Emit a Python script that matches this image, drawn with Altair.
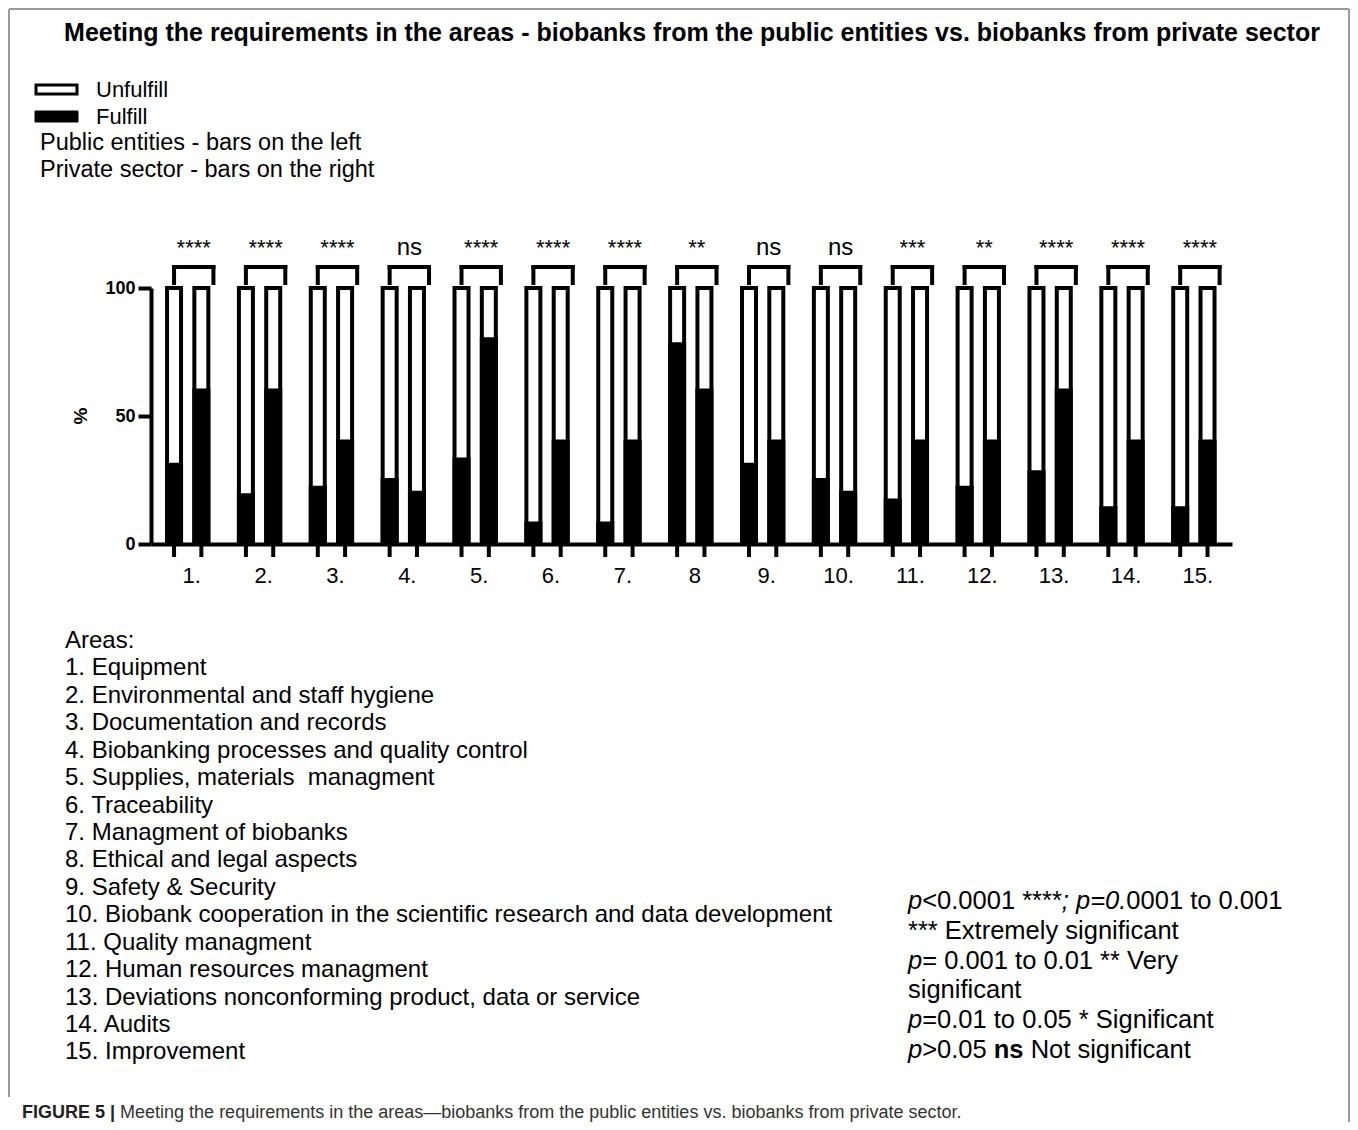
import altair as alt
import pandas as pd

# ---------------- data ----------------
area_ids = list(range(1, 16))
tick_labels = ["1.", "2.", "3.", "4.", "5.", "6.", "7.", "8", "9.", "10.", "11.", "12.", "13.", "14.", "15."]
public_fulfill = [31, 19, 22, 25, 33, 8, 8, 78, 31, 25, 17, 22, 28, 14, 14]
private_fulfill = [60, 60, 40, 20, 80, 40, 40, 60, 40, 20, 40, 40, 60, 40, 40]
significance = ["****", "****", "****", "ns", "****", "****", "****", "**", "ns", "ns",
                "***", "**", "****", "****", "****"]
area_names = [
    "Areas:",
    "1. Equipment",
    "2. Environmental and staff hygiene",
    "3. Documentation and records",
    "4. Biobanking processes and quality control",
    "5. Supplies, materials\u00a0 managment",
    "6. Traceability",
    "7. Managment of biobanks",
    "8. Ethical and legal aspects",
    "9. Safety & Security",
    "10. Biobank cooperation in the scientific research and data development",
    "11. Quality managment",
    "12. Human resources managment",
    "13. Deviations nonconforming product, data or service",
    "14. Audits",
    "15. Improvement",
]
legend_items = ["Unfulfill", "Fulfill"]
legend_notes = ["Public entities - bars on the left", "Private sector - bars on the right"]
title_text = ("Meeting the requirements in the areas - biobanks from the public entities "
              "vs. biobanks from private sector")
caption_bold = "FIGURE 5 |"
caption_text = ("Meeting the requirements in the areas\u2014biobanks from the public entities "
                "vs. biobanks from private sector.")
p_lines = [
    [("p", "i"), ("<0.0001 ****", "n"), ("; p=0.", "i"), ("0001 to 0.001", "n")],
    [("*** Extremely significant", "n")],
    [("p", "i"), ("= 0.001 to 0.01 ** Very", "n")],
    [("significant", "n")],
    [("p", "i"), ("=0.01 to 0.05 * Significant", "n")],
    [("p", "i"), (">0.05 ", "n"), ("ns", "b"), (" Not significant", "n")],
]

# ---------------- layout ----------------
FONT = "Liberation Sans"
PL, PT = 151, 288          # plot-area origin on the page
W, H = 1081, 256
D0, D1 = 0.559, 15.461
OFF = 0.19
BR_R = 0.358
P_SIZE = 25.5

REG = {' ': 278, '*': 389, '.': 278, ';': 278, '<': 584, '>': 584, '=': 584, 'p': 556, '|': 260}
BOLD = {' ': 278, '|': 280, 'F': 611, 'I': 278, 'G': 778, 'U': 722, 'R': 722, 'E': 667, 'n': 611, 's': 556}


def tw(s, size, bold=False):
    t = BOLD if bold else REG
    return sum(t.get(c, 556) for c in s) / 1000 * size


rows = []
for i, pub, pri in zip(area_ids, public_fulfill, private_fulfill):
    rows.append({"id": i, "sector": "Public", "pos": i - OFF, "fulfill": pub, "full": 100})
    rows.append({"id": i, "sector": "Private", "pos": i + OFF, "fulfill": pri, "full": 100})
bars = pd.DataFrame(rows)

br = pd.DataFrame({"id": area_ids, "sig": significance, "label": tick_labels})
br["left"] = br["id"] - OFF
br["right"] = br["id"] + BR_R
br["mid"] = (br["left"] + br["right"]) / 2

xs = alt.Scale(domain=[D0, D1], nice=False, zero=False)
ys = alt.Scale(domain=[0, 100], nice=False)

X = alt.X("pos:Q", scale=xs,
          axis=alt.Axis(labels=False, ticks=False, grid=False, title=None,
                        domainWidth=4, domainColor="black"))
Yaxis = alt.Axis(values=[0, 50, 100], title=None, grid=False, domainWidth=4, domainColor="black",
                 tickWidth=4, tickColor="black", tickSize=13, labelFontSize=18,
                 labelFontWeight="bold", labelFont=FONT, labelColor="black", labelPadding=3)

bg = alt.Chart(bars).mark_bar(width=14, orient="vertical", fill="white", stroke="black",
                              strokeWidth=4).encode(
    x=X, y=alt.Y("full:Q", scale=ys, axis=Yaxis))
fg = alt.Chart(bars).mark_bar(width=14, orient="vertical", fill="black", stroke="black",
                              strokeWidth=4).encode(
    x=alt.X("pos:Q", scale=xs), y=alt.Y("fulfill:Q", scale=ys))
ticks = alt.Chart(bars).mark_rule(strokeWidth=4, color="black").encode(
    x=alt.X("pos:Q", scale=xs), y=alt.value(H), y2=alt.value(H + 13))

brk_kw = dict(strokeWidth=4, color="black", strokeCap="square")
hbr = alt.Chart(br).mark_rule(**brk_kw).encode(
    x=alt.X("left:Q", scale=xs), x2="right:Q", y=alt.value(-21))
lleg = alt.Chart(br).mark_rule(**brk_kw).encode(
    x=alt.X("left:Q", scale=xs), y=alt.value(-21), y2=alt.value(-5))
rleg = alt.Chart(br).mark_rule(**brk_kw).encode(
    x=alt.X("right:Q", scale=xs), y=alt.value(-21), y2=alt.value(-5))
sig = alt.Chart(br).mark_text(font=FONT, align="center", baseline="alphabetic", color="black").encode(
    x=alt.X("mid:Q", scale=xs), y=alt.value(-33), text="sig:N",
    size=alt.condition(alt.datum.sig == "ns", alt.value(24), alt.value(22)))
xlab = alt.Chart(br).mark_text(font=FONT, fontSize=22, align="center", baseline="alphabetic",
                               dx=4, color="black").encode(
    x=alt.X("id:Q", scale=xs), y=alt.value(295), text="label:N")


def text_layer(df, **kw):
    base = dict(font=FONT, align="left", baseline="alphabetic", color="black")
    base.update(kw)
    return alt.Chart(df).mark_text(**base).encode(
        x=alt.X("px:Q", scale=None, axis=None),
        y=alt.Y("py:Q", scale=None, axis=None),
        text="t:N")


title = text_layer(pd.DataFrame({"t": [title_text], "px": [692 - PL], "py": [41 - PT]}),
                   fontSize=25, fontWeight="bold", align="center")
ytitle = text_layer(pd.DataFrame({"t": ["%"], "px": [87 - PL], "py": [416 - PT]}),
                    fontSize=19, fontWeight="bold", align="center", angle=270)

leg_items = text_layer(pd.DataFrame({"t": legend_items, "px": [96 - PL] * 2,
                                     "py": [97 - PT + 26.5 * k for k in range(2)]}), fontSize=22)
leg_notes = text_layer(pd.DataFrame({"t": legend_notes, "px": [40 - PL] * 2,
                                     "py": [150 - PT + 27 * k for k in range(2)]}), fontSize=23.5)
sw_un = alt.Chart(pd.DataFrame({"k": [0]})).mark_rect(fill="white", stroke="black", strokeWidth=3).encode(
    x=alt.value(36 - PL), x2=alt.value(77 - PL), y=alt.value(85 - PT), y2=alt.value(94 - PT))
sw_fu = alt.Chart(pd.DataFrame({"k": [0]})).mark_rect(fill="black", stroke="black", strokeWidth=1).encode(
    x=alt.value(35 - PL), x2=alt.value(78 - PL), y=alt.value(111 - PT), y2=alt.value(122 - PT))

areas = text_layer(pd.DataFrame({"t": area_names, "px": [65 - PL] * len(area_names),
                                 "py": [648 - PT + 27.43 * k for k in range(len(area_names))]}),
                   fontSize=24)

prow = []
for li, segs in enumerate(p_lines):
    x = 908 - PL
    for txt, st in segs:
        lead = txt[:len(txt) - len(txt.lstrip())]
        prow.append({"t": txt.strip(), "st": st, "px": x + tw(lead, P_SIZE), "py": 909 - PT + 29.8 * li})
        x += tw(txt, P_SIZE, bold=(st == "b"))
pdf = pd.DataFrame(prow)
p_n = text_layer(pdf[pdf.st == "n"], fontSize=P_SIZE)
p_i = text_layer(pdf[pdf.st == "i"], fontSize=P_SIZE, fontStyle="italic")
p_b = text_layer(pdf[pdf.st == "b"], fontSize=P_SIZE, fontWeight="bold")

cap_b = text_layer(pd.DataFrame({"t": [caption_bold], "px": [22 - PL], "py": [1118 - PT]}),
                   fontSize=18, fontWeight="bold", color="#222")
cap_r = text_layer(pd.DataFrame({"t": [caption_text], "px": [22 - PL + tw(caption_bold + " ", 18, True)],
                                 "py": [1118 - PT]}), fontSize=18, color="#333")

one = pd.DataFrame({"k": [0]})
fr_kw = dict(color="#9a9a9a", strokeWidth=2)
fr_top = alt.Chart(one).mark_rule(**fr_kw).encode(
    x=alt.value(9 - PL), x2=alt.value(1349 - PL), y=alt.value(9 - PT))
fr_left = alt.Chart(one).mark_rule(**fr_kw).encode(
    x=alt.value(9 - PL), y=alt.value(9 - PT), y2=alt.value(1097 - PT))
fr_right = alt.Chart(one).mark_rule(**fr_kw).encode(
    x=alt.value(1349 - PL), y=alt.value(9 - PT), y2=alt.value(1122 - PT))

chart = alt.layer(
    bg, fg, ticks, hbr, lleg, rleg, sig, xlab,
    title, ytitle, leg_items, leg_notes, sw_un, sw_fu, areas, p_n, p_i, p_b, cap_b, cap_r,
    fr_top, fr_left, fr_right,
).properties(
    width=W, height=H,
    autosize=alt.AutoSizeParams(type="none"),
    padding={"left": PL - 8, "top": PT - 8, "right": 1350 - PL - W, "bottom": 1122 - PT - H},
    background="white",
).configure_view(stroke="transparent")

chart.save("out.html", embed_options={"renderer": "svg", "actions": False})
